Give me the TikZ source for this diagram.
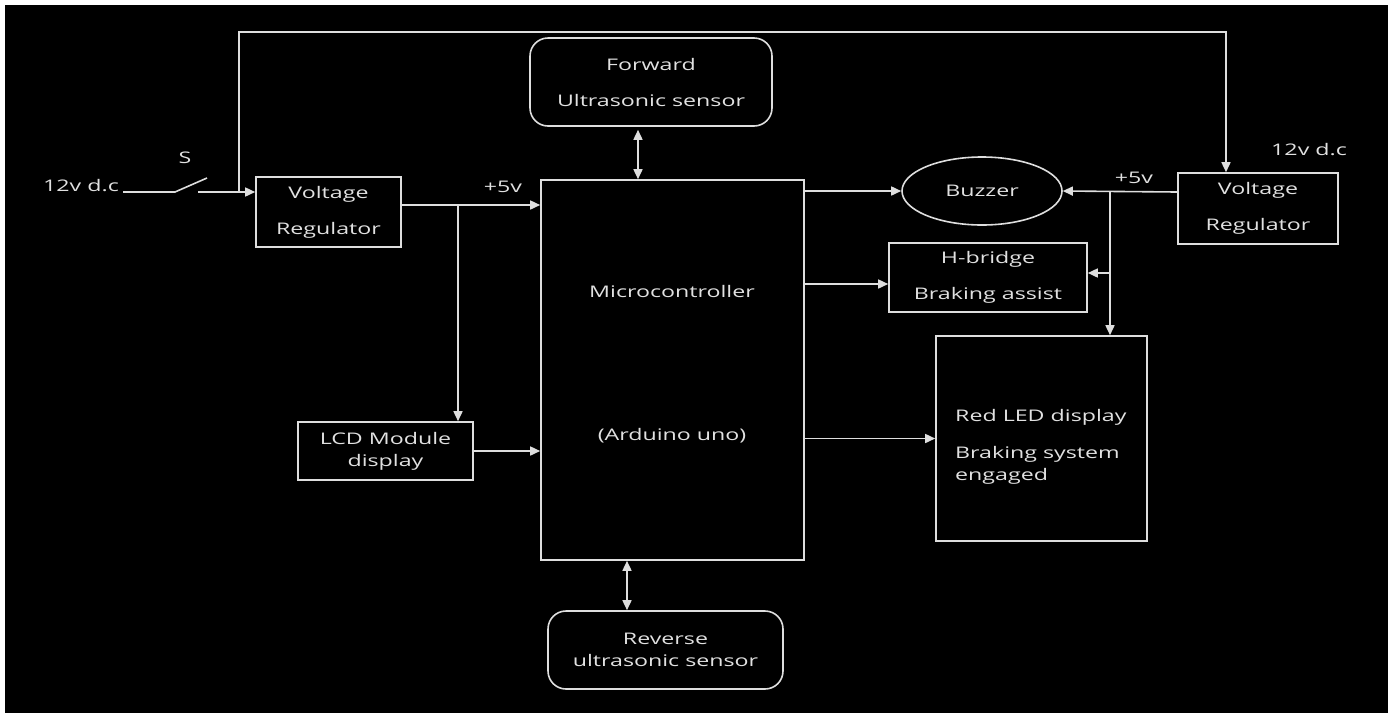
\documentclass[tikz,border=0pt]{standalone}
\usepackage{fontspec}
\setmainfont{Open Sans}[FakeStretch=1.45]
\usetikzlibrary{arrows.meta,shapes.geometric}
\definecolor{ln}{RGB}{222,222,222}
\definecolor{tx}{RGB}{225,225,225}
\tikzset{
  wire/.style={draw=ln,line width=1.6pt},
  arr/.style={wire,-{Triangle[length=10pt,width=9pt]}},
  darr/.style={wire,{Triangle[length=10pt,width=9pt]}-{Triangle[length=10pt,width=9pt]}},
  box/.style={draw=ln,line width=1.6pt,rectangle,inner sep=0pt,text=tx,align=center,
    font=\fontsize{16}{36}\selectfont},
  rbox/.style={box,rounded corners=18pt},
  lbl/.style={text=tx,inner sep=0pt,font=\fontsize{16}{20}\selectfont}
}
\begin{document}
\begin{tikzpicture}[x=1pt,y=-1pt]
\useasboundingbox (0,0) rectangle (1394,713);
\fill[white] (0,0) rectangle (1394,713);
\fill[black] (5,5) rectangle (1388,713);

% boxes
\node[box,minimum width=145pt,minimum height=70pt] (vr1) at (328.5,212) {Voltage\\Regulator};
\node[box,minimum width=263pt,minimum height=380pt] (mcu) at (672.5,370) {};
\node[lbl] (mcut1) at (672,291) {Microcontroller};
\node[lbl] (mcut2) at (672,436) {(Arduino uno)};
\node[rbox,minimum width=242pt,minimum height=88pt] (fwd) at (651,82) {Forward\\Ultrasonic sensor};
\node[rbox,minimum width=235pt,minimum height=78pt,font=\fontsize{16}{22}\selectfont] (rev) at (665.5,650) {Reverse\\ultrasonic sensor};
\node[box,minimum width=175pt,minimum height=58pt,font=\fontsize{16}{22}\selectfont] (lcd) at (385.5,451) {LCD Module\\display};
\node[draw=ln,line width=1.6pt,ellipse,minimum width=160pt,minimum height=68pt,inner sep=0pt,text=tx,font=\fontsize{16}{20}\selectfont] (buz) at (982,191) {Buzzer};
\node[box,minimum width=198pt,minimum height=69pt] (hb) at (988,277.5) {H-bridge\\Braking assist};
\node[box,minimum width=160pt,minimum height=71pt] (vr2) at (1258,208.5) {Voltage\\Regulator};
\node[draw=ln,line width=1.6pt,rectangle,minimum width=211pt,minimum height=205pt] (led) at (1041.5,438.5) {};
\node[lbl,align=left,font=\fontsize{16}{22}\selectfont,anchor=north west] (ledt) at (955,409) {Red LED display\\[15pt]Braking system\\engaged};

% labels
\node[lbl] (l12a) at (81,186) {12v d.c};
\node[lbl] (ls) at (185,158) {S};
\node[lbl] (l5a) at (503,187) {+5v};
\node[lbl] (l5b) at (1134,178) {+5v};
\node[lbl] (l12b) at (1309,150) {12v d.c};

% coordinates
\coordinate (in0) at (123,192);
\coordinate (sw1) at (175,192);
\coordinate (sw2) at (207,178);
\coordinate (sw3) at (198,192);
\coordinate (j0) at (239,192);
\coordinate (t1) at (239,32);
\coordinate (t2) at (1226,32);
\coordinate (j1) at (458,205);
\coordinate (j2) at (1110,192);
\coordinate (j3) at (1110,273);
\coordinate (h1) at (804,284);
\coordinate (xf) at (638,0);
\coordinate (xr) at (627,0);

% connectors
\draw[wire] (in0) -- (sw1) -- (sw2);
\draw[arr] (sw3) -- (sw3 -| vr1.west);
\draw[arr] (j0) -- (t1) -- (t2) -- (t2 |- vr2.north);
\draw[arr] (j1 -| vr1.east) -- (j1 -| mcu.west);
\draw[arr] (j1) -- (j1 |- lcd.north);
\draw[arr] (lcd.east) -- (lcd.east -| mcu.west);
\draw[darr,shorten <=3pt] (xf |- fwd.south) -- (xf |- mcu.north);
\draw[darr] (xr |- mcu.south) -- (xr |- rev.north);
\draw[arr] (buz.west -| mcu.east) -- (buz.west);
\draw[arr] (h1) -- (h1 -| hb.west);
\draw[arr] (led.west -| mcu.east) -- (led.west);
\draw[arr] (j2 -| vr2.west) -- (buz.east);
\draw[arr] (j2) -- (j2 |- led.north);
\draw[arr] (j3) -- (j3 -| hb.east);
\end{tikzpicture}
\end{document}
